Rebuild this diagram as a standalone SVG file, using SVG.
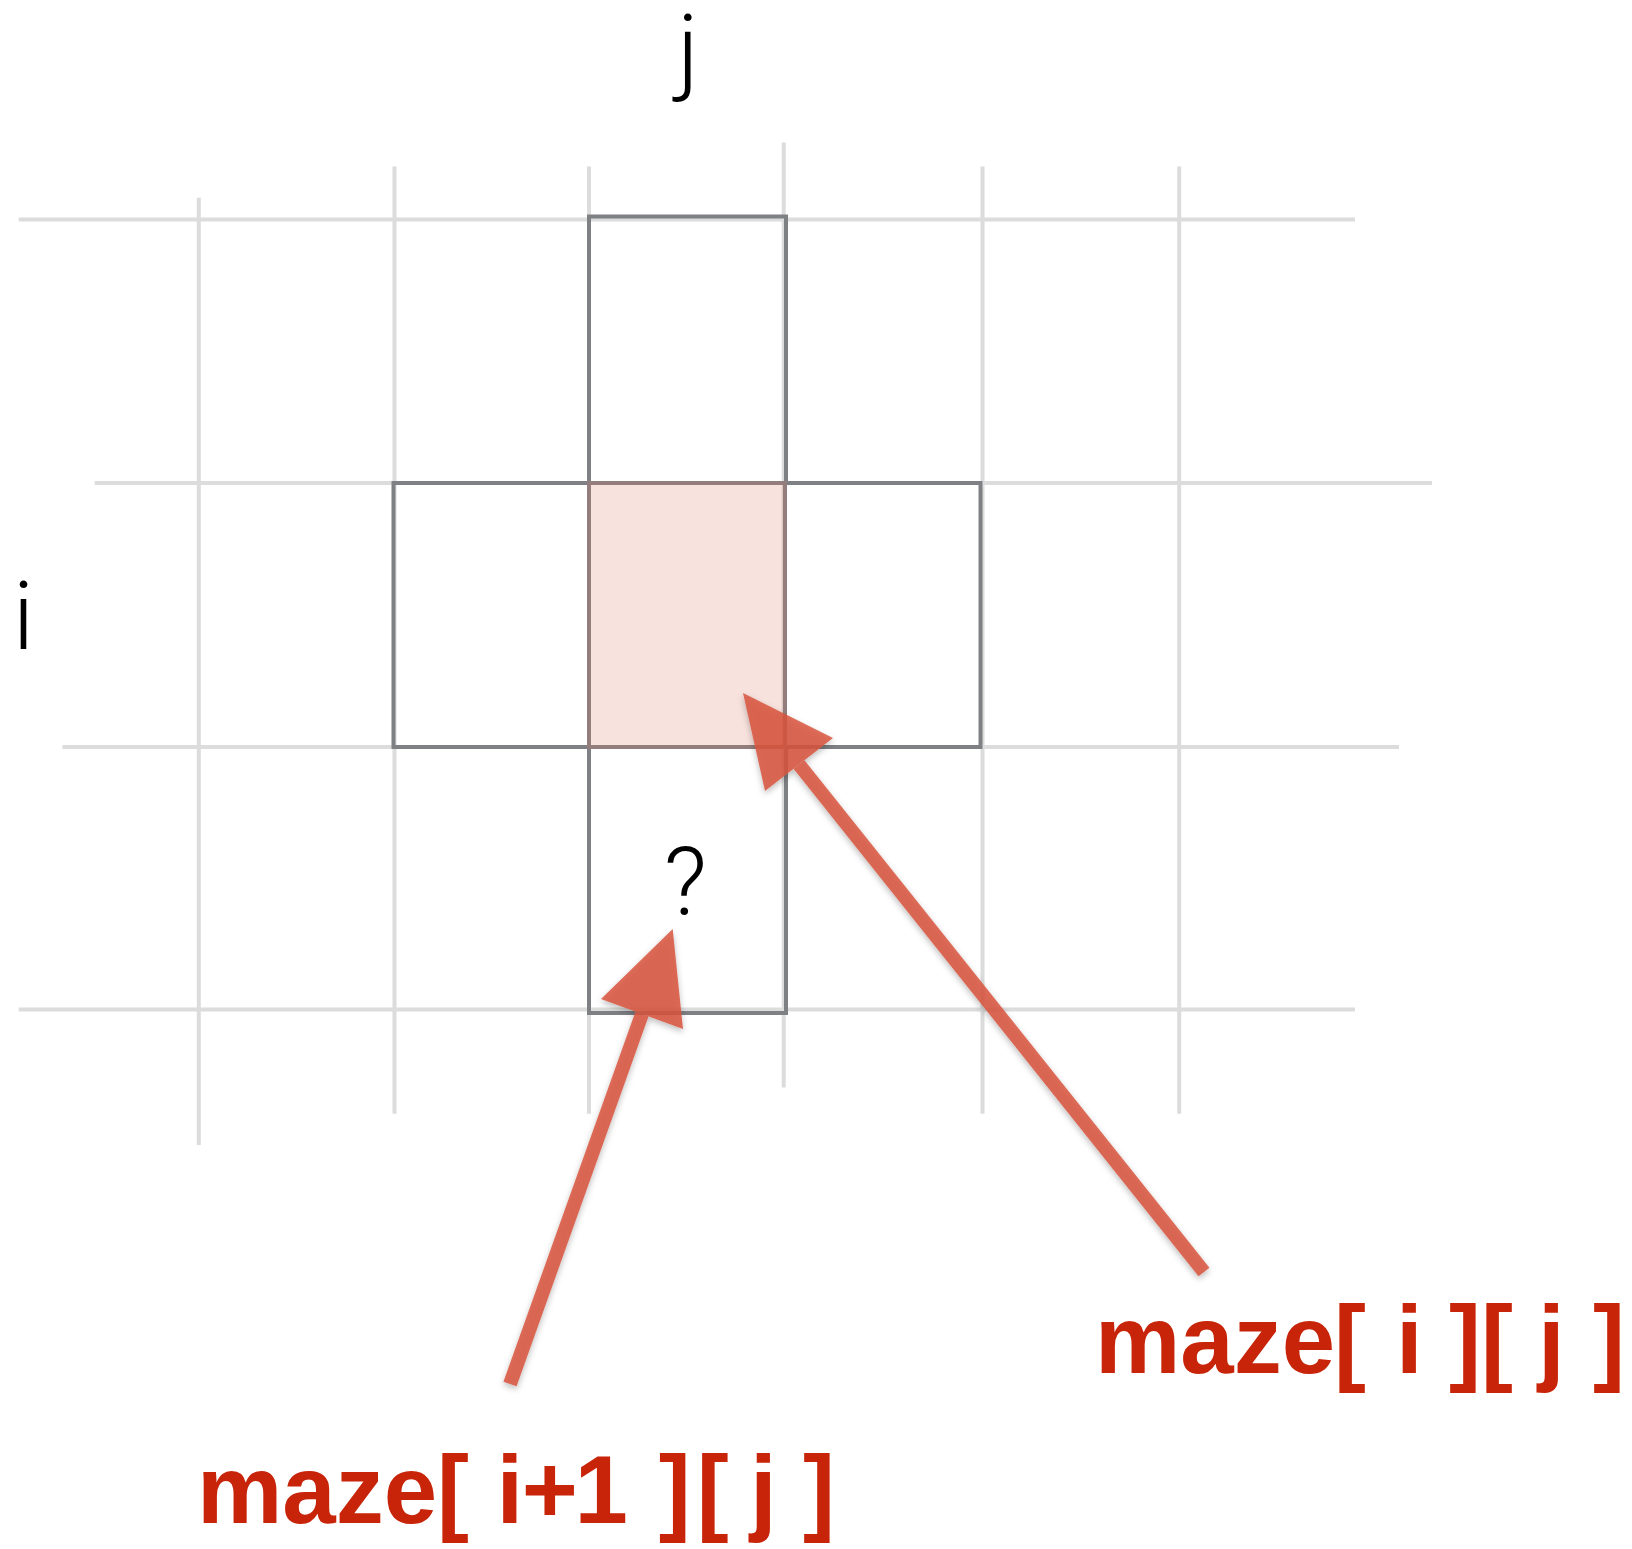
<svg xmlns="http://www.w3.org/2000/svg" width="1632" height="1549" viewBox="0 0 1632 1549">
<defs>
<style>
.grid{stroke:#dcdcdc;stroke-width:4;fill:none}
.cell{stroke:#7f8084;stroke-width:4;fill:none}
.thin{font-family:Roboto,"Liberation Sans",sans-serif;font-weight:300;font-size:95px;fill:#000}
.lbl{font-family:"Liberation Sans",Arial,sans-serif;font-weight:bold;font-size:96px;fill:#c72409}
.arrow{fill:#d7543d;stroke:none}
.shaft{stroke:#d7543d;stroke-width:14;stroke-linecap:butt;fill:none}
</style>
<filter id="sh" x="-20%" y="-20%" width="140%" height="140%">
<feDropShadow dx="0" dy="3" stdDeviation="3" flood-color="#000" flood-opacity="0.3"/>
</filter>
</defs>
<rect width="1632" height="1549" fill="#fff"/>
<g id="grid">
<line class="grid" x1="18.7" y1="219.6" x2="1355" y2="219.6"/>
<line class="grid" x1="94.7" y1="483" x2="1432" y2="483"/>
<line class="grid" x1="62.4" y1="747" x2="1399" y2="747"/>
<line class="grid" x1="18.7" y1="1009.6" x2="1355" y2="1009.6"/>
<line class="grid" x1="198.8" y1="197.8" x2="198.8" y2="1145"/>
<line class="grid" x1="394.5" y1="166.5" x2="394.5" y2="1113.7"/>
<line class="grid" x1="589" y1="166.5" x2="589" y2="1113.7"/>
<line class="grid" x1="783.7" y1="142.6" x2="783.7" y2="1087.6"/>
<line class="grid" x1="982.5" y1="166.5" x2="982.5" y2="1113.7"/>
<line class="grid" x1="1179.2" y1="166.5" x2="1179.2" y2="1113.7"/>
</g>
<g id="cell-top"><rect class="cell" x="589" y="216.5" width="197" height="266.5"/></g>
<g id="cell-middle-row"><rect class="cell" x="393.5" y="483" width="587" height="264"/><line class="cell" x1="589" y1="483" x2="589" y2="747"/><line class="cell" x1="785" y1="483" x2="785" y2="747"/></g>
<g id="cell-bottom"><rect class="cell" x="589" y="747" width="197" height="266"/></g>
<g id="cell-current"><rect x="587" y="481" width="200" height="268" fill="#de7862" fill-opacity="0.21"/></g>
<g id="label-j"><text class="thin" x="688" y="82" text-anchor="middle">j</text></g>
<g id="label-i"><text class="thin" x="23.4" y="649" text-anchor="middle">i</text></g>
<g id="label-q"><text class="thin" x="685.3" y="915" text-anchor="middle">?</text></g>
<g id="label-maze-ij"><text class="lbl" y="1373"><tspan x="1095">maze</tspan><tspan x="1334">[ </tspan><tspan x="1396">i </tspan><tspan x="1449">]</tspan><tspan x="1481">[ </tspan><tspan x="1538">j </tspan><tspan x="1593">]</tspan></text></g>
<g id="label-maze-i1j"><text class="lbl" y="1523"><tspan x="197">maze</tspan><tspan x="437">[ </tspan><tspan x="496.6">i</tspan><tspan x="521.7">+</tspan><tspan x="574.5">1 </tspan><tspan x="658.8">]</tspan><tspan x="696.7">[ </tspan><tspan x="750">j </tspan><tspan x="803">]</tspan></text></g>
<g id="connectors" filter="url(#sh)">
<g opacity="0.85">
<line class="shaft" x1="1204" y1="1272" x2="799" y2="764.5"/>
<polygon class="arrow" points="743,693 833,738 765,791"/>
</g>
<g opacity="0.85">
<line class="shaft" x1="510" y1="1384" x2="642" y2="1014"/>
<polygon class="arrow" points="672.7,929 683,1029 601,999"/>
</g>
</g>
</svg>
